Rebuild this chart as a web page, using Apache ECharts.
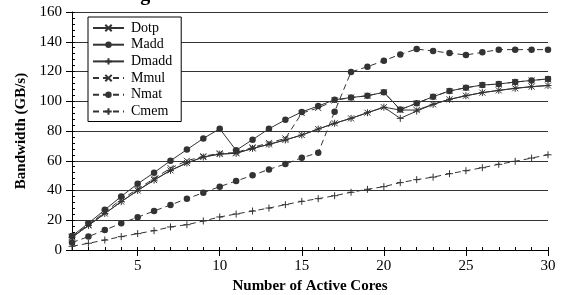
<!DOCTYPE html>
<html><head><meta charset="utf-8">
<script src="https://cdn.jsdelivr.net/npm/echarts@6/dist/echarts.min.js"></script>
<style>html,body{margin:0;padding:0;background:#fff}#c{width:564px;height:295px}</style>
</head><body><div id="c"></div>
<script>
var cores = [1,2,3,4,5,6,7,8,9,10,11,12,13,14,15,16,17,18,19,20,21,22,23,24,25,26,27,28,29,30];
var dotp  = [8.5,16.5,24.5,32.5,40,47,53.5,58.5,62.5,64.5,65,68.3,71,74,77.3,81.3,85.2,88.5,92.3,96,94.1,94.1,97.9,101.3,103.7,105.8,107.3,108.7,109.8,110.6];
var madd  = [9.4,18,27,36,44.5,52,60,67.5,75,81.5,67,74.2,81.5,87.5,92.8,96.8,101,102.5,103.7,106,94.4,98.6,103.1,106.9,109.1,110.9,111.6,112.9,114,115];
var dmadd = [8.5,16.5,24.5,32.5,40,47,53.5,58.5,62.5,64.5,65,68.3,71,74,77.3,81.3,85.2,88.5,92.3,96,88.5,93.4,97.9,101.3,103.7,105.8,107.3,108.7,109.8,110.6];
var mmul  = [9,17,25.5,34,41,48,55,60,63,65,65.5,69,72,75,92,95.5,100.5,102.5,103.7,106,94.4,98.6,103.1,106.9,109.1,110.9,111.6,112.9,114,115];
var nmat  = [5,9,13.4,18,22,26.2,30.3,34.5,38.5,42.6,46.4,50.2,54.2,57.8,62,65.4,93,119.7,123.2,127.3,131.5,135.1,133.8,132.4,131.1,132.9,134.7,134.7,134.7,134.7];
var cmem  = [2.5,4.5,6.7,9,11,13,15.5,17,19.5,22.2,24.2,26.2,28.2,30.5,32.7,34.5,36.5,38.8,40.8,42.6,45.3,47.3,49,51.3,53.3,55.3,57.6,59.6,61.8,64];
var names = ['Dotp','Madd','Dmadd','Mmul','Nmat','Cmem'];
var xMajor = [5,10,15,20,25,30];

var C = '#333';
var SERIF = '"Liberation Serif","DejaVu Serif",serif';
var X = 'path://M0,0L10,10M10,0L0,10';
var P = 'path://M5,0L5,10M0,5L10,5';
function pairs(a){ return a.map(function(v,i){ return [cores[i], v]; }); }
function mk(name, data, sym, size, dashed, filled){
  return {
    name: name, type: 'line', data: pairs(data), symbol: sym, symbolSize: size,
    lineStyle: {color: C, width: 1, type: dashed ? [6,4] : 'solid'},
    itemStyle: {color: filled ? C : 'rgba(0,0,0,0)', borderColor: C, borderWidth: filled ? 0 : 1},
    animation: false, z: 3
  };
}
var chart = echarts.init(document.getElementById('c'), null, {renderer: 'canvas'});
chart.setOption({
  backgroundColor: '#fff',
  animation: false,
  title: {text: 'Figure 5: Bandwidth vs. Active Cores', left: 'center', top: -15, padding: 0,
    textStyle: {fontFamily: SERIF, fontWeight: 'bold', fontSize: 20, color: '#000'}},
  grid: {left: 72, right: 16, top: 12, bottom: 45, outerBoundsMode: 'none', containLabel: false},
  legend: {
    orient: 'vertical', left: 88, top: 17, padding: [4, 9, 3, 4],
    itemWidth: 31, itemHeight: 8, itemGap: 2.7,
    borderColor: '#000', borderWidth: 1, backgroundColor: '#fff',
    textStyle: {fontFamily: SERIF, fontSize: 14, color: '#000', padding: [0,0,0,2]},
    data: names
  },
  xAxis: [{
    type: 'value', min: 1, max: 30,
    name: 'Number of Active Cores', nameLocation: 'middle', nameGap: 29,
    nameTextStyle: {fontFamily: SERIF, fontWeight: 'bold', fontSize: 15, color: '#000'},
    axisLine: {lineStyle: {color: '#000', width: 1}},
    axisTick: {customValues: xMajor, length: 6, lineStyle: {color: '#000'}},
    axisLabel: {customValues: xMajor, fontFamily: SERIF, fontSize: 15, color: '#000', margin: 9},
    splitLine: {show: false}
  },{
    type: 'value', min: 1, max: 30, position: 'bottom',
    axisLine: {show: false},
    axisTick: {customValues: cores, inside: true, length: 3, lineStyle: {color: '#000'}},
    axisLabel: {show: false}, splitLine: {show: false}
  }],
  yAxis: [{
    type: 'value', min: 0, max: 160, interval: 20,
    name: 'Bandwidth (GB/s)', nameLocation: 'middle', nameGap: 43,
    nameTextStyle: {fontFamily: SERIF, fontWeight: 'bold', fontSize: 15, color: '#000'},
    axisLine: {show: true, lineStyle: {color: '#000', width: 1}},
    axisTick: {show: true, length: 6, lineStyle: {color: '#000'}},
    axisLabel: {fontFamily: SERIF, fontSize: 15, color: '#000', margin: 10},
    splitLine: {show: true, lineStyle: {color: '#333', width: 1}}
  },{
    type: 'value', min: 0, max: 160, interval: 4, position: 'left',
    axisLine: {show: false},
    axisTick: {show: true, inside: true, length: 3, lineStyle: {color: '#000'}},
    axisLabel: {show: false}, splitLine: {show: false}
  }],
  series: [
    mk('Dotp', dotp, X, 6, false, false),
    mk('Madd', madd, 'circle', 6.5, false, true),
    mk('Dmadd', dmadd, P, 7, false, false),
    mk('Mmul', mmul, X, 6, true, false),
    mk('Nmat', nmat, 'circle', 6.5, true, true),
    mk('Cmem', cmem, P, 7, true, false)
  ]
});
</script></body></html>
